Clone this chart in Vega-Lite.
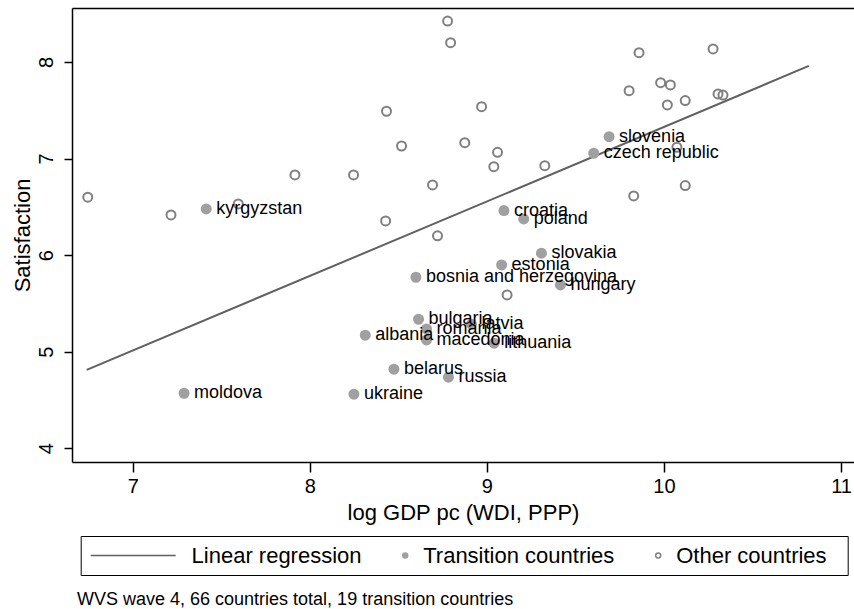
{
  "$schema": "https://vega.github.io/schema/vega-lite/v6.json",
  "width": 782,
  "height": 454,
  "autosize": "none",
  "padding": {"left": 72, "top": 8, "right": 0, "bottom": 147},
  "config": {
    "font": "Liberation Sans",
    "view": {"stroke": null},
    "axis": {"grid": false, "domainColor": "#000", "domainWidth": 1.5, "tickColor": "#000", "tickWidth": 1.5, "labelColor": "#000", "titleColor": "#000", "labelFont": "Liberation Sans", "titleFont": "Liberation Sans", "titleFontWeight": "normal"},
    "axisY": {"labelAngle": 270, "labelAlign": "center", "labelBaseline": "bottom"},
    "legend": {"orient": "none", "legendX": 8.7, "legendY": 528, "direction": "horizontal", "labelFontSize": 22, "labelFont": "Liberation Sans", "labelColor": "#000", "labelLimit": 500, "symbolSize": 25, "symbolStrokeWidth": 1.5, "strokeColor": "#000", "padding": 8.5, "columnPadding": 32, "labelOffset": 7}
  },
  "title": {"text": "WVS wave 4, 66 countries total, 19 transition countries", "orient": "bottom", "anchor": "start", "frame": "group", "fontSize": 18, "fontWeight": "normal", "color": "#000", "dx": 5, "offset": 15},
  "datasets": {
    "fit": [
      {"gdp": 6.74, "sat": 4.812, "series": "Linear regression"},
      {"gdp": 10.818, "sat": 7.959, "series": "Linear regression"}
    ],
    "pts": [
      {"country": "", "gdp": 6.746, "sat": 6.6, "series": "Other countries"},
      {"country": "", "gdp": 7.216, "sat": 6.416, "series": "Other countries"},
      {"country": "", "gdp": 7.596, "sat": 6.53, "series": "Other countries"},
      {"country": "", "gdp": 7.916, "sat": 6.83, "series": "Other countries"},
      {"country": "", "gdp": 8.247, "sat": 6.83, "series": "Other countries"},
      {"country": "", "gdp": 8.428, "sat": 6.354, "series": "Other countries"},
      {"country": "", "gdp": 8.433, "sat": 7.49, "series": "Other countries"},
      {"country": "", "gdp": 8.518, "sat": 7.13, "series": "Other countries"},
      {"country": "", "gdp": 8.693, "sat": 6.727, "series": "Other countries"},
      {"country": "", "gdp": 8.721, "sat": 6.2, "series": "Other countries"},
      {"country": "", "gdp": 8.778, "sat": 8.424, "series": "Other countries"},
      {"country": "", "gdp": 8.795, "sat": 8.2, "series": "Other countries"},
      {"country": "", "gdp": 8.875, "sat": 7.165, "series": "Other countries"},
      {"country": "", "gdp": 8.97, "sat": 7.537, "series": "Other countries"},
      {"country": "", "gdp": 9.039, "sat": 6.916, "series": "Other countries"},
      {"country": "", "gdp": 9.06, "sat": 7.065, "series": "Other countries"},
      {"country": "", "gdp": 9.114, "sat": 5.588, "series": "Other countries"},
      {"country": "", "gdp": 9.327, "sat": 6.926, "series": "Other countries"},
      {"country": "", "gdp": 9.803, "sat": 7.703, "series": "Other countries"},
      {"country": "", "gdp": 9.829, "sat": 6.613, "series": "Other countries"},
      {"country": "", "gdp": 9.859, "sat": 8.096, "series": "Other countries"},
      {"country": "", "gdp": 9.981, "sat": 7.786, "series": "Other countries"},
      {"country": "", "gdp": 10.019, "sat": 7.555, "series": "Other countries"},
      {"country": "", "gdp": 10.036, "sat": 7.762, "series": "Other countries"},
      {"country": "", "gdp": 10.073, "sat": 7.117, "series": "Other countries"},
      {"country": "", "gdp": 10.12, "sat": 7.6, "series": "Other countries"},
      {"country": "", "gdp": 10.12, "sat": 6.72, "series": "Other countries"},
      {"country": "", "gdp": 10.277, "sat": 8.135, "series": "Other countries"},
      {"country": "", "gdp": 10.305, "sat": 7.669, "series": "Other countries"},
      {"country": "", "gdp": 10.333, "sat": 7.658, "series": "Other countries"},
      {"country": "kyrgyzstan", "gdp": 7.415, "sat": 6.478, "series": "Transition countries"},
      {"country": "slovenia", "gdp": 9.69, "sat": 7.227, "series": "Transition countries"},
      {"country": "czech republic", "gdp": 9.603, "sat": 7.055, "series": "Transition countries"},
      {"country": "croatia", "gdp": 9.096, "sat": 6.461, "series": "Transition countries"},
      {"country": "poland", "gdp": 9.208, "sat": 6.375, "series": "Transition countries"},
      {"country": "slovakia", "gdp": 9.308, "sat": 6.02, "series": "Transition countries"},
      {"country": "estonia", "gdp": 9.083, "sat": 5.899, "series": "Transition countries"},
      {"country": "bosnia and herzegovina", "gdp": 8.599, "sat": 5.771, "series": "Transition countries"},
      {"country": "hungary", "gdp": 9.415, "sat": 5.692, "series": "Transition countries"},
      {"country": "bulgaria", "gdp": 8.614, "sat": 5.336, "series": "Transition countries"},
      {"country": "latvia", "gdp": 8.913, "sat": 5.285, "series": "Transition countries"},
      {"country": "romania", "gdp": 8.659, "sat": 5.236, "series": "Transition countries"},
      {"country": "macedonia", "gdp": 8.659, "sat": 5.122, "series": "Transition countries"},
      {"country": "lithuania", "gdp": 9.041, "sat": 5.088, "series": "Transition countries"},
      {"country": "albania", "gdp": 8.313, "sat": 5.171, "series": "Transition countries"},
      {"country": "belarus", "gdp": 8.475, "sat": 4.819, "series": "Transition countries"},
      {"country": "russia", "gdp": 8.783, "sat": 4.736, "series": "Transition countries"},
      {"country": "moldova", "gdp": 7.29, "sat": 4.57, "series": "Transition countries"},
      {"country": "ukraine", "gdp": 8.249, "sat": 4.56, "series": "Transition countries"}
    ]
  },
  "layer": [
    {
      "data": {"name": "fit"},
      "mark": {"type": "line", "strokeWidth": 2},
      "encoding": {
        "x": {"field": "gdp", "type": "quantitative", "scale": {"domain": [6.657, 11.073], "nice": false, "zero": false},
          "axis": {"orient": "bottom", "title": "log GDP pc (WDI, PPP)", "values": [7, 8, 9, 10, 11], "format": "d", "tickSize": 10, "labelFontSize": 20, "labelPadding": 4, "titleFontSize": 22, "titlePadding": 6}},
        "y": {"field": "sat", "type": "quantitative", "scale": {"domain": [3.858, 8.559], "nice": false, "zero": false},
          "axis": {"title": "Satisfaction", "values": [4, 5, 6, 7, 8], "format": "d", "tickSize": 8, "labelFontSize": 20, "labelAngle": 270, "labelAlign": "center", "labelBaseline": "bottom", "labelPadding": 8, "titleFontSize": 22, "titlePadding": 2}},
        "stroke": {"field": "series", "type": "nominal", "title": null,
          "scale": {"domain": ["Linear regression", "Transition countries", "Other countries"], "range": ["#606060", "#a0a0a0", "#808080"]},
          "legend": {"labelExpr": "indexof(datum.label, 'Linear') == 0 ? '\\u200b\\u00a0\\u00a0\\u00a0\\u00a0\\u00a0\\u00a0\\u00a0\\u00a0\\u00a0\\u00a0\\u00a0\\u00a0' + datum.label : (indexof(datum.label, 'Other') == 0 ? datum.label + '\\u00a0\\u00a0\\u200b' : datum.label)"}}
      }
    },
    {
      "data": {"name": "pts"},
      "mark": {"type": "point", "size": 81, "strokeWidth": 2, "opacity": 1},
      "encoding": {
        "x": {"field": "gdp", "type": "quantitative", "axis": null},
        "y": {"field": "sat", "type": "quantitative", "axis": {"title": "Satisfaction", "values": [4, 5, 6, 7, 8], "format": "d", "tickSize": 8, "labelFontSize": 20, "labelAngle": 270, "labelAlign": "center", "labelBaseline": "bottom", "labelPadding": 8, "titleFontSize": 22, "titlePadding": 2}},
        "stroke": {"field": "series", "type": "nominal", "title": null,
          "legend": {"labelExpr": "indexof(datum.label, 'Linear') == 0 ? '\\u200b\\u00a0\\u00a0\\u00a0\\u00a0\\u00a0\\u00a0\\u00a0\\u00a0\\u00a0\\u00a0\\u00a0\\u00a0' + datum.label : (indexof(datum.label, 'Other') == 0 ? datum.label + '\\u00a0\\u00a0\\u200b' : datum.label)"}},
        "fill": {"field": "series", "type": "nominal", "title": null,
          "scale": {"domain": ["Linear regression", "Transition countries", "Other countries"], "range": ["transparent", "#a0a0a0", "transparent"]},
          "legend": {"labelExpr": "indexof(datum.label, 'Linear') == 0 ? '\\u200b\\u00a0\\u00a0\\u00a0\\u00a0\\u00a0\\u00a0\\u00a0\\u00a0\\u00a0\\u00a0\\u00a0\\u00a0' + datum.label : (indexof(datum.label, 'Other') == 0 ? datum.label + '\\u00a0\\u00a0\\u200b' : datum.label)"}},
        "shape": {"field": "series", "type": "nominal", "title": null,
          "scale": {"domain": ["Linear regression", "Transition countries", "Other countries"], "range": ["M-3.8,0L30.2,0", "circle", "circle"]},
          "legend": {"labelExpr": "indexof(datum.label, 'Linear') == 0 ? '\\u200b\\u00a0\\u00a0\\u00a0\\u00a0\\u00a0\\u00a0\\u00a0\\u00a0\\u00a0\\u00a0\\u00a0\\u00a0' + datum.label : (indexof(datum.label, 'Other') == 0 ? datum.label + '\\u00a0\\u00a0\\u200b' : datum.label)"}}
      }
    },
    {
      "data": {"name": "pts"},
      "transform": [{"filter": "datum.series == 'Transition countries'"}],
      "mark": {"type": "text", "align": "left", "baseline": "middle", "dx": 10, "fontSize": 18, "color": "#000"},
      "encoding": {
        "x": {"field": "gdp", "type": "quantitative", "axis": {"orient": "top", "labels": false, "ticks": false, "title": null}},
        "y": {"field": "sat", "type": "quantitative", "axis": {"title": "Satisfaction", "values": [4, 5, 6, 7, 8], "format": "d", "tickSize": 8, "labelFontSize": 20, "labelAngle": 270, "labelAlign": "center", "labelBaseline": "bottom", "labelPadding": 8, "titleFontSize": 22, "titlePadding": 2}},
        "text": {"field": "country"}
      }
    }
  ],
  "resolve": {"axis": {"x": "independent"}}
}
